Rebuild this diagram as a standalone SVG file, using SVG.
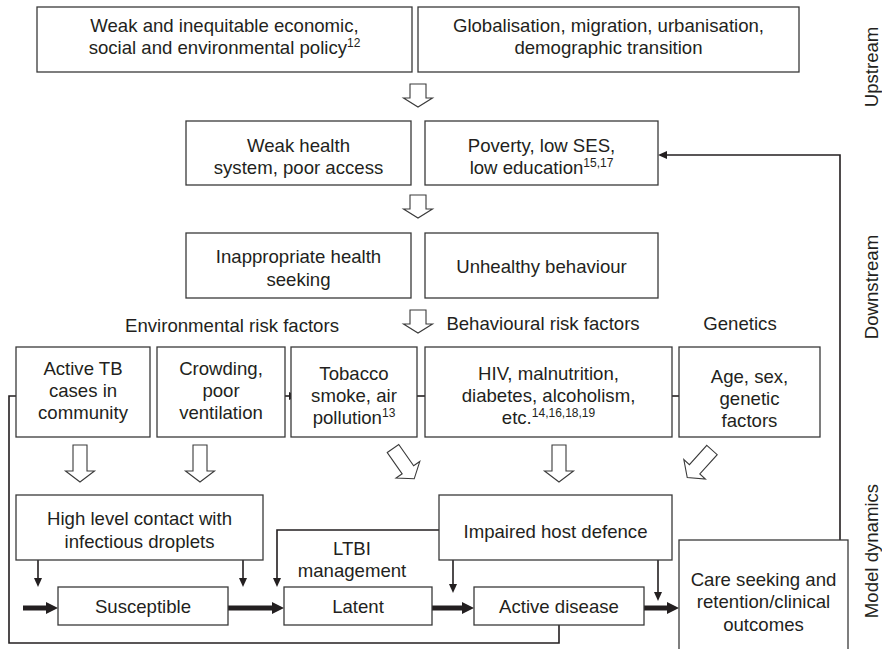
<svg xmlns="http://www.w3.org/2000/svg" width="882" height="649" viewBox="0 0 882 649">
<style>
.box{fill:#fff;stroke:#3a3a3a;stroke-width:1.3}
.t{font-family:"Liberation Sans",Arial,Helvetica,sans-serif;font-size:18.6px;fill:#231f20;text-anchor:middle}
.sup{font-size:12px}
.thin{fill:none;stroke:#231f20;stroke-width:1.6}
.thick{fill:none;stroke:#231f20;stroke-width:5}
.hollow{fill:#fff;stroke:#3a3a3a;stroke-width:1.1;stroke-linejoin:miter}
</style>
<defs>
<marker id="ah" markerUnits="userSpaceOnUse" markerWidth="10" markerHeight="9" refX="0" refY="4" orient="auto" overflow="visible">
<path d="M0,0 L9,4 L0,8 Z" fill="#231f20"/>
</marker>
<marker id="ahThick" markerUnits="userSpaceOnUse" markerWidth="13" markerHeight="13" refX="0" refY="6" orient="auto" overflow="visible">
<path d="M0,0 L12,6 L0,12 Z" fill="#231f20"/>
</marker>
<path id="hollowSmall" d="M-8,0 H8 V14 H14.5 L0,23 L-14.5,14 H-8 Z"/>
<path id="hollowBig" d="M-7,0 H7 V26 H14.5 L0,37 L-14.5,26 H-7 Z"/>
</defs>
<rect width="882" height="649" fill="#fff"/>

<g id="connectors">
<path class="thin" marker-end="url(#ah)" d="M840,540 V155 H667"/>
<path class="thin" marker-end="url(#ah)" d="M269,396 H289"/>
<path class="thin" marker-end="url(#ah)" d="M412,396 H431"/>
<path class="thin" marker-end="url(#ah)" d="M688,396 H667"/>
<path class="thin" marker-end="url(#ah)" d="M559,625 V643 H9 V396 H22"/>
<path class="thin" marker-end="url(#ah)" d="M38,560 V578"/>
<path class="thin" marker-end="url(#ah)" d="M243,560 V578"/>
<path class="thin" marker-end="url(#ah)" d="M439,530 H277 V578"/>
<path class="thin" marker-end="url(#ah)" d="M453,560 V584"/>
<path class="thin" marker-end="url(#ah)" d="M658,560 V592"/>
<path class="thick" marker-end="url(#ahThick)" d="M23,608 H46"/>
<path class="thick" marker-end="url(#ahThick)" d="M228,608 H272"/>
<path class="thick" marker-end="url(#ahThick)" d="M432,608 H462"/>
<path class="thick" marker-end="url(#ahThick)" d="M643,608 H667"/>
<use href="#hollowSmall" class="hollow" transform="translate(418,84)"/>
<use href="#hollowSmall" class="hollow" transform="translate(418,195)"/>
<use href="#hollowSmall" class="hollow" transform="translate(418,310)"/>
<use href="#hollowBig" class="hollow" transform="translate(80,445)"/>
<use href="#hollowBig" class="hollow" transform="translate(200,445)"/>
<use href="#hollowBig" class="hollow" transform="translate(393,448.5) rotate(-35)"/>
<use href="#hollowBig" class="hollow" transform="translate(559,445)"/>
<use href="#hollowBig" class="hollow" transform="translate(712,450) rotate(42)"/>
</g>

<g id="policy">
<rect class="box" x="37" y="7" width="375" height="65"/>
<text class="t" x="224.5" y="32">Weak and inequitable economic,</text>
<text class="t" x="224.5" y="54">social and environmental policy<tspan class="sup" dy="-7">12</tspan></text>
</g>
<g id="globalisation">
<rect class="box" x="418" y="7" width="381" height="65"/>
<text class="t" x="608.5" y="32">Globalisation, migration, urbanisation,</text>
<text class="t" x="608.5" y="54">demographic transition</text>
</g>
<g id="health-system">
<rect class="box" x="186" y="121" width="225" height="64"/>
<text class="t" x="298.5" y="152">Weak health</text>
<text class="t" x="298.5" y="174">system, poor access</text>
</g>
<g id="poverty">
<rect class="box" x="425" y="121" width="233" height="64"/>
<text class="t" x="541.5" y="152">Poverty, low SES,</text>
<text class="t" x="541.5" y="174">low education<tspan class="sup" dy="-7">15,17</tspan></text>
</g>
<g id="health-seeking">
<rect class="box" x="186" y="233" width="225" height="65"/>
<text class="t" x="298.5" y="263">Inappropriate health</text>
<text class="t" x="298.5" y="286">seeking</text>
</g>
<g id="unhealthy">
<rect class="box" x="425" y="233" width="233" height="65"/>
<text class="t" x="541.5" y="273">Unhealthy behaviour</text>
</g>

<g id="labels">
<text class="t" x="232" y="332">Environmental risk factors</text>
<text class="t" x="543" y="330">Behavioural risk factors</text>
<text class="t" x="740" y="330">Genetics</text>
<text class="t" transform="translate(878,67) rotate(-90)">Upstream</text>
<text class="t" transform="translate(878,287) rotate(-90)">Downstream</text>
<text class="t" transform="translate(878,551) rotate(-90)">Model dynamics</text>
</g>

<g id="active-tb">
<rect class="box" x="16" y="347" width="134" height="90"/>
<text class="t" x="83" y="375">Active TB</text>
<text class="t" x="83" y="397">cases in</text>
<text class="t" x="83" y="419">community</text>
</g>
<g id="crowding">
<rect class="box" x="157" y="347" width="128" height="90"/>
<text class="t" x="221" y="375">Crowding,</text>
<text class="t" x="221" y="397">poor</text>
<text class="t" x="221" y="419">ventilation</text>
</g>
<g id="tobacco">
<rect class="box" x="291" y="347" width="126" height="90"/>
<text class="t" x="354" y="380">Tobacco</text>
<text class="t" x="354" y="402">smoke, air</text>
<text class="t" x="354" y="424">pollution<tspan class="sup" dy="-7">13</tspan></text>
</g>
<g id="hiv">
<rect class="box" x="425" y="347" width="247" height="90"/>
<text class="t" x="548.5" y="380">HIV, malnutrition,</text>
<text class="t" x="548.5" y="402">diabetes, alcoholism,</text>
<text class="t" x="548.5" y="424">etc.<tspan class="sup" dy="-7">14,16,18,19</tspan></text>
</g>
<g id="age">
<rect class="box" x="679" y="347" width="141" height="90"/>
<text class="t" x="749.5" y="383">Age, sex,</text>
<text class="t" x="749.5" y="405">genetic</text>
<text class="t" x="749.5" y="427">factors</text>
</g>

<g id="contact">
<rect class="box" x="16" y="495" width="247" height="65"/>
<text class="t" x="139.5" y="525">High level contact with</text>
<text class="t" x="139.5" y="548">infectious droplets</text>
</g>
<g id="host-defence">
<rect class="box" x="439" y="495" width="233" height="65"/>
<text class="t" x="555.5" y="538">Impaired host defence</text>
</g>
<g id="ltbi">
<text class="t" x="352" y="555">LTBI</text>
<text class="t" x="352" y="577">management</text>
</g>
<g id="susceptible">
<rect class="box" x="58" y="587" width="170" height="38"/>
<text class="t" x="143" y="613">Susceptible</text>
</g>
<g id="latent">
<rect class="box" x="284" y="587" width="148" height="38"/>
<text class="t" x="358" y="613">Latent</text>
</g>
<g id="active-disease">
<rect class="box" x="474" y="587" width="170" height="38"/>
<text class="t" x="559" y="613">Active disease</text>
</g>
<g id="care">
<rect class="box" x="679" y="540" width="169" height="115"/>
<text class="t" x="763.5" y="586">Care seeking and</text>
<text class="t" x="763.5" y="608">retention/clinical</text>
<text class="t" x="763.5" y="631">outcomes</text>
</g>
</svg>
